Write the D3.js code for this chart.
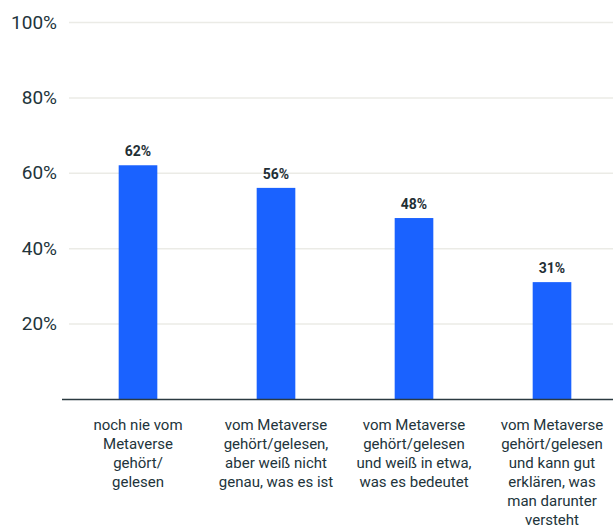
<!DOCTYPE html>
<html>
<head>
<meta charset="utf-8">
<script src="https://cdn.jsdelivr.net/npm/d3@7"></script>
<style>
  body { margin: 0; background: #fff; }
  text { font-family: Roboto, "Open Sans", sans-serif; }
</style>
</head>
<body>
<svg id="chart" width="613" height="527"></svg>
<script>
// data
var categories = [
  "noch nie vom|Metaverse|gehört/|gelesen",
  "vom Metaverse|gehört/gelesen,|aber weiß nicht|genau, was es ist",
  "vom Metaverse|gehört/gelesen|und weiß in etwa,|was es bedeutet",
  "vom Metaverse|gehört/gelesen|und kann gut|erklären, was|man darunter|versteht"
];
var values = [62, 56, 48, 31];
var yTicks = [20, 40, 60, 80, 100];

var svg = d3.select("#chart");
var m = { left: 69, right: 621, top: 22, bottom: 399 };

var x = d3.scaleBand().domain(categories).range([m.left, m.right]).paddingInner(0.72).paddingOuter(0.36);
var y = d3.scaleLinear().domain([0, 100]).range([m.bottom, m.top]);

// grid
svg.append("g").selectAll("line").data(yTicks).join("line")
  .attr("x1", m.left).attr("x2", 613)
  .attr("y1", d => y(d) + 0.5).attr("y2", d => y(d) + 0.5)
  .attr("stroke", "#ebebe6").attr("stroke-width", 1.5);

var yAxis = d3.axisLeft(y).tickValues(yTicks).tickSize(0).tickPadding(12).tickFormat(d => d + "%");
var gy = svg.append("g").attr("transform", "translate(" + m.left + ",0)").call(yAxis);
gy.select(".domain").remove();
gy.selectAll("text").attr("font-size", 19).attr("fill", "#22343b").attr("font-family", "Roboto, sans-serif");

// bars
svg.append("g").selectAll("rect").data(values).join("rect")
  .attr("x", (d, i) => x(categories[i]))
  .attr("width", x.bandwidth())
  .attr("y", d => y(d))
  .attr("height", d => m.bottom - y(d))
  .attr("fill", "#1a62ff");

svg.append("g").selectAll("text").data(values).join("text")
  .attr("x", (d, i) => x(categories[i]) + x.bandwidth() / 2)
  .attr("y", d => y(d) - 9)
  .attr("text-anchor", "middle")
  .attr("font-size", 14).attr("font-weight", "bold").attr("fill", "#1f2f36")
  .text(d => d + "%");

// baseline
svg.append("line").attr("x1", 62).attr("x2", 613).attr("y1", m.bottom + 0.5).attr("y2", m.bottom + 0.5)
  .attr("stroke", "#2b3a40").attr("stroke-width", 1.5);

// x labels
var xl = svg.append("g").selectAll("text").data(categories).join("text")
  .attr("text-anchor", "middle")
  .attr("font-size", 15).attr("fill", "#22343b")
  .attr("transform", d => "translate(" + (x(d) + x.bandwidth() / 2) + ",430)");
xl.selectAll("tspan").data(d => d.split("|")).join("tspan")
  .attr("x", 0).attr("dy", (d, i) => i === 0 ? 0 : 19).text(d => d);
</script>
</body>
</html>
